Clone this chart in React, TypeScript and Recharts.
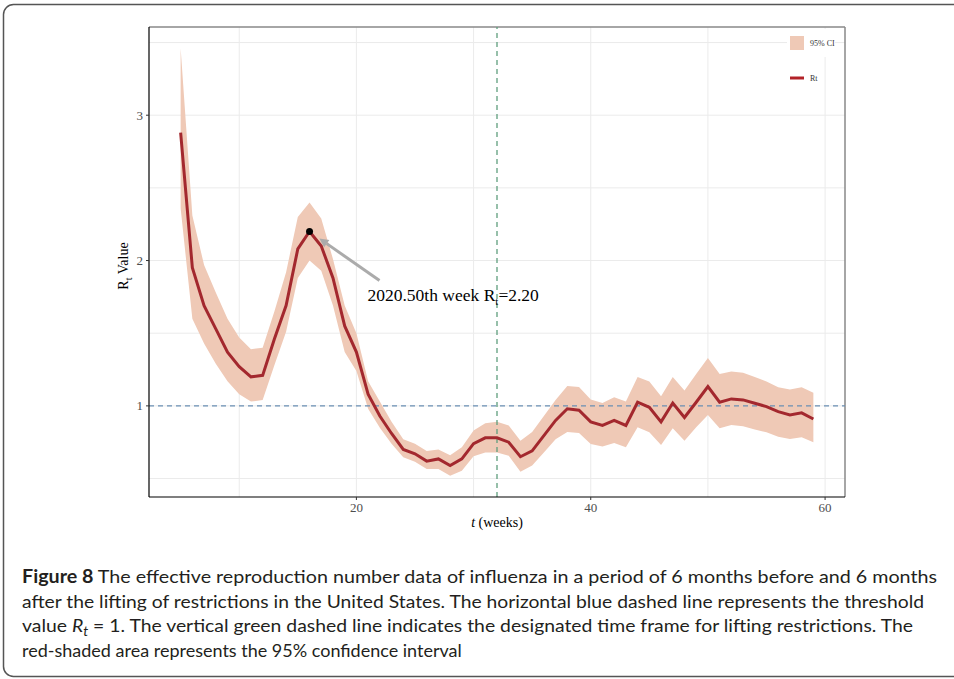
import React from "react";
import {
  ComposedChart,
  Area,
  Line,
  XAxis,
  YAxis,
  CartesianGrid,
  ReferenceLine,
  ReferenceDot,
} from "recharts";

// weekly Rt estimates
const weeks = [
  5, 6, 7, 8, 9, 10, 11, 12, 13, 14, 15, 16, 17, 18, 19, 20, 21, 22, 23, 24,
  25, 26, 27, 28, 29, 30, 31, 32, 33, 34, 35, 36, 37, 38, 39, 40, 41, 42, 43,
  44, 45, 46, 47, 48, 49, 50, 51, 52, 53, 54, 55, 56, 57, 58, 59,
];

const rtValues = [
  2.88, 1.95, 1.69, 1.53, 1.37, 1.27, 1.2, 1.21, 1.46, 1.69, 2.08, 2.2, 2.1,
  1.88, 1.55, 1.37, 1.08, 0.93, 0.81, 0.7, 0.67, 0.62, 0.635, 0.59, 0.635,
  0.74, 0.78, 0.78, 0.75, 0.65, 0.69, 0.795, 0.9, 0.98, 0.97, 0.89, 0.865,
  0.9, 0.865, 1.025, 0.99, 0.89, 1.02, 0.92, 1.025, 1.133, 1.025, 1.048,
  1.041, 1.018, 0.995, 0.96, 0.938, 0.952, 0.91,
];

const ciLower = [
  2.36, 1.6, 1.43, 1.29, 1.17, 1.08, 1.03, 1.04, 1.28, 1.51, 1.88, 2.0, 1.93,
  1.69, 1.37, 1.24, 0.98, 0.85, 0.74, 0.646, 0.616, 0.566, 0.566, 0.52, 0.554,
  0.653, 0.68, 0.68, 0.657, 0.547, 0.59, 0.68, 0.77, 0.82, 0.814, 0.738, 0.72,
  0.745, 0.715, 0.853, 0.818, 0.73, 0.846, 0.76, 0.853, 0.938, 0.846, 0.869,
  0.86, 0.837, 0.818, 0.788, 0.772, 0.784, 0.75,
];

const ciUpper = [
  3.46, 2.31, 1.97, 1.78, 1.6, 1.47, 1.39, 1.4, 1.65, 1.92, 2.3, 2.4, 2.29,
  2.01, 1.69, 1.5, 1.17, 1.03, 0.89, 0.77, 0.74, 0.69, 0.7, 0.66, 0.715, 0.83,
  0.88, 0.89, 0.865, 0.76, 0.82, 0.93, 1.04, 1.136, 1.13, 1.044, 1.02, 1.06,
  1.03, 1.198, 1.168, 1.067, 1.198, 1.106, 1.22, 1.33, 1.22, 1.237, 1.228,
  1.198, 1.168, 1.129, 1.112, 1.129, 1.09,
];

const xTicks = [20, 40, 60];
const yTicks = [1, 2, 3];
const xGrid = [10, 20, 30, 40, 50, 60];
const yGrid = [0.5, 1, 1.5, 2, 2.5, 3, 3.5];

const X_DOMAIN: [number, number] = [2.3, 61.7];
const Y_DOMAIN: [number, number] = [0.373, 3.607];

const threshold = 1;
const liftWeek = 32;
const peakWeek = 16;
const peakRt = 2.2;
// arrow from label towards the peak
const arrowTail = { x: 21.97, y: 1.862 };
const arrowTip = { x: 16.84, y: 2.152 };

const data = weeks.map((t, i) => ({
  t,
  rt: rtValues[i],
  ci: [ciLower[i], ciUpper[i]],
}));

const SERIF = "'Liberation Serif', 'Times New Roman', serif";
const SANS = "Lato, 'Liberation Sans', sans-serif";

const RIBBON = "#efc9b6";
const LINE = "#a3282e";

function ArrowNote(props: any) {
  const { x1, y1, x2, y2 } = props;
  const ang = Math.atan2(y2 - y1, x2 - x1);
  const len = 9;
  const half = 4.5;
  const bx = x2 - len * Math.cos(ang);
  const by = y2 - len * Math.sin(ang);
  const px = -Math.sin(ang) * half;
  const py = Math.cos(ang) * half;
  return (
    <g>
      <line x1={x1} y1={y1} x2={bx} y2={by} stroke="#ababab" strokeWidth={3} />
      <polygon
        points={`${x2},${y2} ${bx + px},${by + py} ${bx - px},${by - py}`}
        fill="#ababab"
      />
      <text x={x1 - 12} y={y1 + 20} fontFamily={SERIF} fontSize={17.5} fill="#000">
        2020.50th week R
        <tspan dy={4} fontSize={11}>t</tspan>
        <tspan dy={-4}>=2.20</tspan>
      </text>
    </g>
  );
}

export default function App() {
  return (
    <div
      style={{
        position: "absolute",
        left: 0,
        top: 0,
        width: 954,
        height: 679,
        overflow: "hidden",
        background: "#fff",
      }}
    >
      <ComposedChart
        width={954}
        height={679}
        data={data}
        margin={{ top: 27, right: 109, bottom: 152, left: 109 }}
      >
        <CartesianGrid
          stroke="#ebebeb"
          strokeWidth={1}
          horizontalValues={yGrid}
          verticalValues={xGrid}
        />
        <XAxis
          dataKey="t"
          type="number"
          domain={X_DOMAIN}
          ticks={xTicks}
          allowDataOverflow
          height={30}
          tickSize={3}
          tickMargin={3}
          axisLine={{ stroke: "#000", strokeWidth: 1.2 }}
          tickLine={{ stroke: "#333" }}
          tick={{ fill: "#4d4d4d", fontSize: 13, fontFamily: SERIF }}
        />
        <YAxis
          type="number"
          domain={Y_DOMAIN}
          ticks={yTicks}
          allowDataOverflow
          width={40}
          tickSize={3}
          tickMargin={3}
          axisLine={{ stroke: "#000", strokeWidth: 1.2 }}
          tickLine={{ stroke: "#333" }}
          tick={{ fill: "#4d4d4d", fontSize: 13, fontFamily: SERIF }}
        />
        <ReferenceLine y={Y_DOMAIN[1]} stroke="#888" strokeWidth={1.5} />
        <ReferenceLine x={X_DOMAIN[1]} stroke="#888" strokeWidth={1.5} />
        <Area
          dataKey="ci"
          type="linear"
          stroke="none"
          fill={RIBBON}
          fillOpacity={1}
          isAnimationActive={false}
        />
        <ReferenceLine
          y={threshold}
          stroke="#6a8fb4"
          strokeWidth={1.3}
          strokeDasharray="5 4"
        />
        <ReferenceLine
          x={liftWeek}
          stroke="#5f9e7d"
          strokeWidth={1.3}
          strokeDasharray="5 4"
        />
        <Line
          dataKey="rt"
          type="linear"
          stroke={LINE}
          strokeWidth={3}
          dot={false}
          isAnimationActive={false}
        />
        <ReferenceDot x={peakWeek} y={peakRt} r={3.5} fill="#000" stroke="none" />
        <ReferenceLine segment={[arrowTail, arrowTip]} shape={ArrowNote} />
      </ComposedChart>

      <svg
        width={954}
        height={679}
        style={{ position: "absolute", left: 0, top: 0, pointerEvents: "none" }}
      >
        {/* figure frame */}
        <rect
          x={3.5}
          y={4.5}
          width={990}
          height={672}
          rx={10}
          fill="none"
          stroke="#555"
          strokeWidth={1.5}
        />

        {/* axis titles */}
        <text x={497} y={527} textAnchor="middle" fontFamily={SERIF} fontSize={14} fill="#000">
          <tspan fontStyle="italic">t</tspan> (weeks)
        </text>
        <text
          transform="translate(128,266) rotate(-90)"
          textAnchor="middle"
          fontFamily={SERIF}
          fontSize={14}
          fill="#000"
        >
          R<tspan dy={4} fontSize={10}>t</tspan>
          <tspan dy={-4}> Value</tspan>
        </text>

        {/* legend */}
        <rect x={787} y={29} width={48} height={28} fill="#fff" />
        <rect x={790} y={36} width={14} height={14} fill={RIBBON} />
        <text x={810} y={46} fontFamily={SERIF} fontSize={8} fill="#333">
          95% CI
        </text>
        <rect x={787} y={63} width={33} height={28} fill="#fff" />
        <line x1={790} y1={78} x2={804} y2={78} stroke="#b22228" strokeWidth={3} />
        <text x={810} y={81} fontFamily={SERIF} fontSize={8} fill="#333">
          Rt
        </text>

        {/* caption */}
        <g fontFamily={SANS} fontSize={18} fill="#231f20">
          <text x={22} y={583} textLength={915} lengthAdjust="spacingAndGlyphs">
            <tspan fontWeight="bold">Figure 8</tspan>
            {"  The effective reproduction number data of influenza in a period of 6 months before and 6 months"}
          </text>
          <text x={22} y={608} textLength={902} lengthAdjust="spacingAndGlyphs">
            after the lifting of restrictions in the United States. The horizontal blue dashed line represents the threshold
          </text>
          <text x={22} y={632} textLength={891} lengthAdjust="spacingAndGlyphs">
            {"value "}
            <tspan fontStyle="italic">R</tspan>
            <tspan fontStyle="italic" dy={4} fontSize={13}>t</tspan>
            <tspan dy={-4}>
              {" = 1. The vertical green dashed line indicates the designated time frame for lifting restrictions. The"}
            </tspan>
          </text>
          <text x={22} y={657}>
            red-shaded area represents the 95% confidence interval
          </text>
        </g>
      </svg>
    </div>
  );
}
